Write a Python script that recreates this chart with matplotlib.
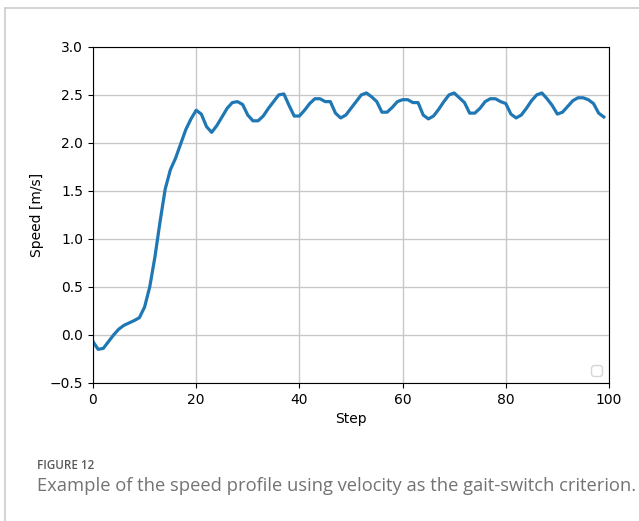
import numpy as np
import matplotlib
matplotlib.use("Agg")
import matplotlib.pyplot as plt
from matplotlib.lines import Line2D

# speed per step
speed = [-0.07, -0.15, -0.14, -0.07, 0.00, 0.06, 0.10, 0.125, 0.15, 0.18,
         0.29, 0.50, 0.81, 1.18, 1.52, 1.72, 1.84, 1.99, 2.14, 2.25,
         2.34, 2.30, 2.17, 2.11, 2.18, 2.27, 2.36, 2.42, 2.43, 2.40,
         2.29, 2.23, 2.23, 2.28, 2.36, 2.43, 2.50, 2.51, 2.39, 2.28,
         2.28, 2.34, 2.41, 2.46, 2.46, 2.43, 2.43, 2.31, 2.26, 2.29,
         2.36, 2.43, 2.50, 2.52, 2.48, 2.43, 2.32, 2.32, 2.37, 2.43,
         2.45, 2.45, 2.42, 2.42, 2.29, 2.25, 2.28, 2.35, 2.43, 2.50,
         2.52, 2.47, 2.42, 2.31, 2.31, 2.36, 2.43, 2.46, 2.46, 2.43,
         2.41, 2.30, 2.26, 2.29, 2.36, 2.44, 2.50, 2.52, 2.46, 2.39,
         2.30, 2.32, 2.38, 2.44, 2.47, 2.47, 2.45, 2.41, 2.31, 2.27]
steps = np.arange(len(speed))

x_ticks = [0, 20, 40, 60, 80, 100]
y_ticks = [-0.5, 0.0, 0.5, 1.0, 1.5, 2.0, 2.5, 3.0]

caption_title = "FIGURE 12"
caption_text = "Example of the speed profile using velocity as the gait-switch criterion."

fig = plt.figure(figsize=(6.39, 5.21), dpi=100)
ax = fig.add_axes([0.1455, 0.265, 0.8075, 0.645])

ax.plot(steps, speed, color="#1f77b4", linewidth=2.3)
ax.set_xlim(0, 100)
ax.set_ylim(-0.5, 3.0)
ax.set_xticks(x_ticks)
ax.set_yticks(y_ticks)
ax.tick_params(labelsize=10)
ax.grid(True, color="#c8c8c8", linewidth=1.0)
ax.set_xlabel("Step", fontsize=10)
ax.set_ylabel("Speed [m/s]", fontsize=10)
# empty legend box, as in the original
ax.legend(handles=[], loc="lower right")

# page-like border on the left and top
fig.add_artist(Line2D([0.008, 0.008], [0, 0.984], color="#cccccc", linewidth=1.2))
fig.add_artist(Line2D([0.008, 1.0], [0.984, 0.984], color="#cccccc", linewidth=1.2))

fig.text(0.058, 0.106, caption_title, fontsize=8.4, color="#5a5a5a",
         family="Open Sans", weight="semibold", va="center")
fig.text(0.058, 0.067, caption_text, fontsize=13.25, color="#737373",
         family="Open Sans", va="center")

fig.savefig("out.png", dpi=100)
